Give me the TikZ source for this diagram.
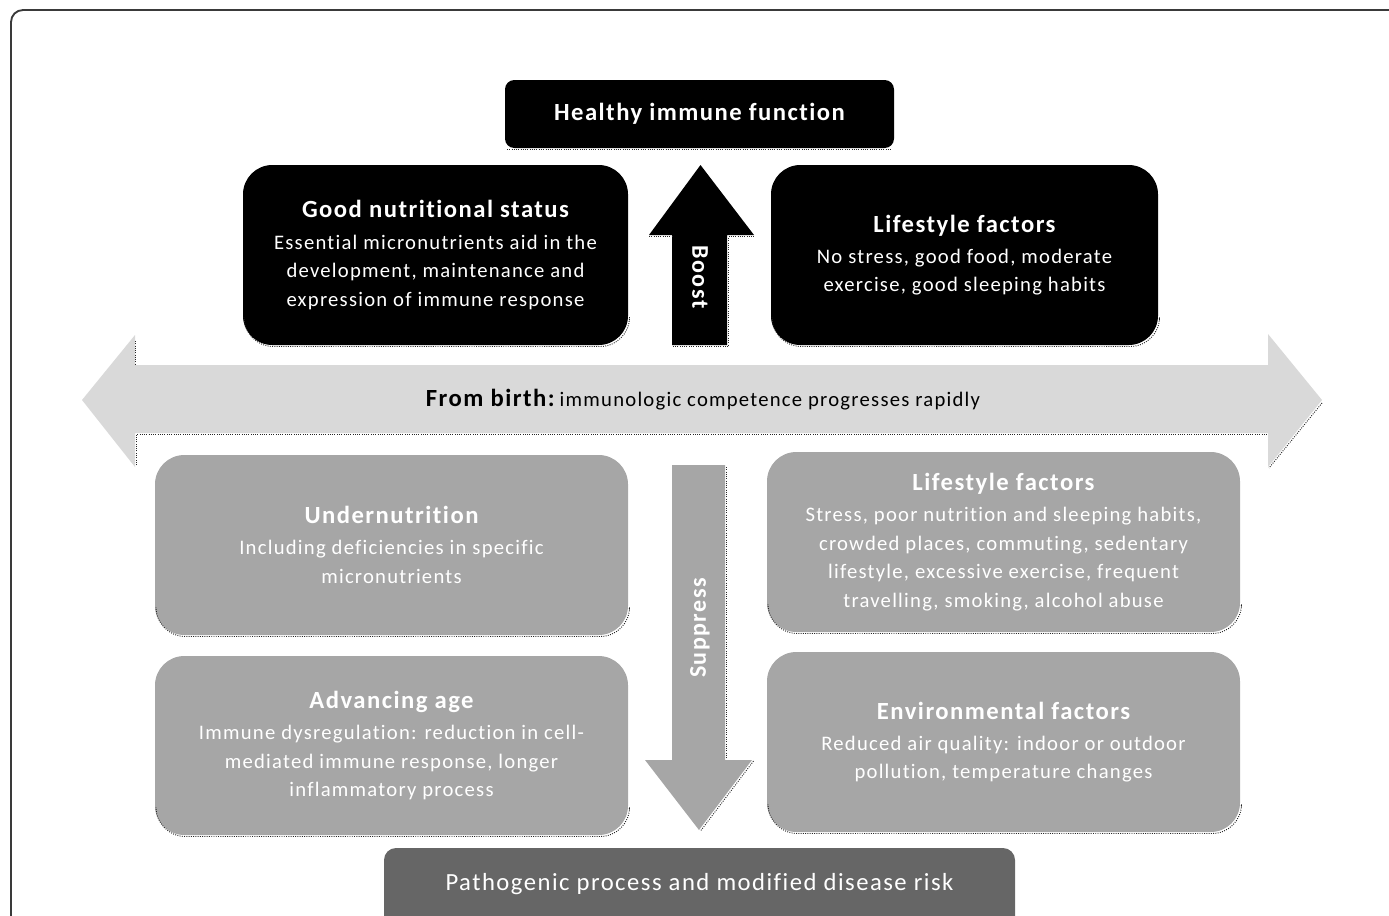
\documentclass[tikz,border=0pt]{standalone}
\usepackage{fontspec}
\setmainfont{Carlito}[LetterSpace=6, Ligatures=NoCommon]
\definecolor{boxgray}{HTML}{A6A6A6}
\definecolor{lightgray2}{HTML}{D9D9D9}
\definecolor{darkgray2}{HTML}{666666}
\definecolor{framegray}{HTML}{3A3A3A}
\begin{document}
\begin{tikzpicture}[x=0.75pt,y=-0.75pt,
  bodyfont/.style={font=\fontsize{15.5}{21.4}\selectfont},
  blackbox/.style={fill=black, rounded corners=22pt, text=white, align=center, bodyfont, inner sep=0pt},
  graybox/.style={fill=boxgray, rounded corners=22pt, text=white, align=center, bodyfont, inner sep=0pt},
  arrowlabel/.style={font=\fontsize{18}{20}\selectfont\bfseries, inner sep=0pt},
  shadowline/.style={draw=black!85, line width=0.7pt, densely dotted}
]
\useasboundingbox (0,0) rectangle (1389,915);
\clip (0,0) rectangle (1389,915);
\newcommand{\ttl}[1]{{\fontsize{18.5}{21.4}\selectfont\bfseries #1}}

% frame
\draw[framegray, line width=1.4pt, rounded corners=9pt] (11,930) -- (11,10) -- (1400,10);

% top box
\node[fill=black, rounded corners=7pt, minimum width=291.75pt, minimum height=51pt, inner sep=0pt,
  text=white, font=\fontsize{18.5}{22}\selectfont\bfseries] (healthy) at (699.5,114) {Healthy immune function};
\draw[shadowline] (507,149.5) -- (892,149.5);

% boost arrow
\fill[black] (672,345) -- (672,235) -- (649,235) -- (700.5,165) -- (754,235) -- (727,235) -- (727,345) -- cycle;
\draw[shadowline] (649,236.5) -- (672,236.5);
\draw[shadowline] (728.5,236.5) -- (754,236.5);
\draw[shadowline] (728.5,238) -- (728.5,346.5) -- (672,346.5);
\node[arrowlabel, text=white, rotate=-90] (boost) at (700,277) {Boost};

% black boxes
\node[blackbox, minimum width=288.75pt, minimum height=135pt] (good) at (435.5,255)
  {\ttl{Good nutritional status}\\[2pt]Essential micronutrients aid in the\\development, maintenance and\\expression of immune response};
\node[blackbox, minimum width=290.25pt, minimum height=135pt] (lifeA) at (964.5,255)
  {\ttl{Lifestyle factors}\\[2pt]No stress, good food, moderate\\exercise, good sleeping habits};
\draw[shadowline, rounded corners=22pt] (244,320) -- (244,346.5) -- (629.5,346.5) -- (629.5,320);
\draw[shadowline, rounded corners=22pt] (772,320) -- (772,346.5) -- (1159.5,346.5) -- (1159.5,320);

% double arrow
\fill[lightgray2] (82,400) -- (135,335) -- (135,365) -- (1268,365) -- (1268,334) -- (1322,400)
  -- (1268,467) -- (1268,433) -- (135,433) -- (135,467) -- cycle;
\draw[shadowline] (135.5,341) -- (135.5,364);
\draw[shadowline] (136,465) -- (136,434.5) -- (1267,434.5);
\draw[shadowline] (1322,403) -- (1269,468);
\node[inner sep=0pt, text=black] (birth) at (703,400)
  {{\fontsize{18.5}{22}\selectfont\bfseries From birth:} {\fontsize{15.5}{20}\selectfont immunologic competence progresses rapidly}};

% suppress arrow
\fill[boxgray] (672,465) -- (725,465) -- (725,760) -- (752,760) -- (699,830) -- (645,760) -- (672,760) -- cycle;
\draw[shadowline] (726.5,467) -- (726.5,759);
\draw[shadowline] (753.5,761) -- (700.5,831);
\node[arrowlabel, text=white, rotate=90] (suppress) at (700,628) {Suppress};

% gray boxes
\node[graybox, minimum width=354.75pt, minimum height=135pt] (under) at (391.5,545)
  {\ttl{Undernutrition}\\[2pt]Including deficiencies in specific\\micronutrients};
\node[graybox, minimum width=354.75pt, minimum height=135pt] (lifeB) at (1003.5,542)
  {\ttl{Lifestyle factors}\\[2pt]Stress, poor nutrition and sleeping habits,\\crowded places, commuting, sedentary\\lifestyle, excessive exercise, frequent\\travelling, smoking, alcohol abuse};
\node[graybox, minimum width=354.75pt, minimum height=134.25pt] (age) at (391.5,745.5)
  {\ttl{Advancing age}\\[2pt]Immune dysregulation: reduction in cell-\\mediated immune response, longer\\inflammatory process};
\node[graybox, minimum width=354.75pt, minimum height=135pt] (env) at (1003.5,742)
  {\ttl{Environmental factors}\\[2pt]Reduced air quality: indoor or outdoor\\pollution, temperature changes};
\draw[shadowline, rounded corners=22pt] (156,610) -- (156,636.5) -- (629.5,636.5) -- (629.5,610);
\draw[shadowline, rounded corners=22pt] (768,607) -- (768,633.5) -- (1241.5,633.5) -- (1241.5,607);
\draw[shadowline, rounded corners=22pt] (156,810) -- (156,836.5) -- (629.5,836.5) -- (629.5,810);
\draw[shadowline, rounded corners=22pt] (768,807) -- (768,833.5) -- (1241.5,833.5) -- (1241.5,807);

% bottom box
\node[fill=darkgray2, rounded corners=9pt, minimum width=473.25pt, minimum height=75pt, inner sep=0pt] (patho) at (699.5,898) {};
\node[text=white, font=\fontsize{18.5}{21}\selectfont, inner sep=0pt] (pathotext) at (699.5,884) {Pathogenic process and modified disease risk};
\end{tikzpicture}
\end{document}
